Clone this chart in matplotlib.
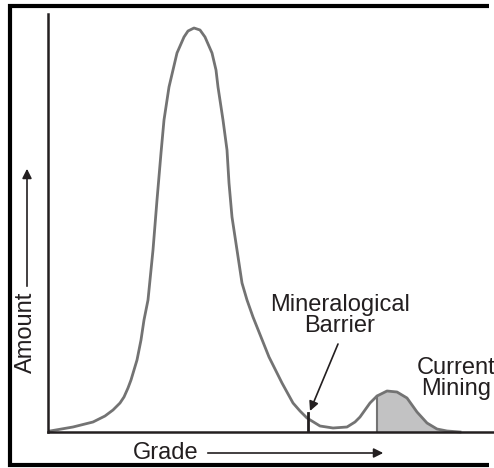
import matplotlib
matplotlib.use("Agg")
import matplotlib.pyplot as plt
from matplotlib.patches import FancyArrowPatch
from matplotlib.lines import Line2D

plt.rcParams['font.family'] = ['Liberation Sans', 'DejaVu Sans']

# grade / amount (arbitrary units)
grade = [2, 25, 45, 57, 65, 72, 76, 80, 83, 86, 89, 93, 96, 100, 102, 105, 109,
         113, 116, 121, 125, 129, 136, 140, 146, 152, 157, 164, 168, 170, 175,
         179, 181, 184, 189, 194, 199, 205, 213, 221, 234, 245, 252, 259, 272, 285,
         299, 307, 312, 322, 329, 339, 349, 359, 369, 379, 389, 399, 412]
amount = [1, 5, 10, 16, 22, 29, 35, 44, 52, 62, 72, 92, 112, 132, 152, 182, 232,
          279, 312, 345, 362, 379, 395, 401, 404, 402, 395, 379, 362, 345, 312,
          282, 249, 215, 182, 149, 132, 115, 95, 75, 49, 29, 21, 14, 6, 4,
          5, 10, 15, 29, 36, 41, 40, 34, 20, 9, 3, 1, 0]

barrier_grade = 260
barrier_height = 19
mining_start = 329

curve_col = '#737373'
ink = '#231f20'

fig = plt.figure(figsize=(4.94, 4.68), dpi=100)
ax = fig.add_axes([48 / 494, 36 / 468, 446 / 494, 418 / 468])
ax.set_xlim(0, 446)
ax.set_ylim(0, 418)
for s in ['top', 'right']:
    ax.spines[s].set_visible(False)
for s in ['left', 'bottom']:
    ax.spines[s].set_color(ink)
    ax.spines[s].set_linewidth(1.8)
ax.set_xticks([])
ax.set_yticks([])

# shaded current mining part
mg = [g for g in grade if g >= mining_start]
ma = [a for g, a in zip(grade, amount) if g >= mining_start]
ax.fill_between(mg, 0, ma, color='#c2c2c3', lw=0)
ax.plot([mining_start, mining_start], [0, ma[0]], color=curve_col, lw=1.5)

ax.plot(grade, amount, color=curve_col, lw=2, solid_joinstyle='round', clip_on=False)

# mineralogical barrier tick
ax.plot([barrier_grade, barrier_grade], [0, barrier_height], color=ink, lw=2)

ax.text(292, 95, 'Mineralogical\nBarrier', ha='center', va='bottom',
        fontsize=17, color=ink, linespacing=0.95)
ax.annotate('', xy=(262, 21), xytext=(290, 88),
            arrowprops=dict(arrowstyle='-|>', color=ink, lw=1.2,
                            mutation_scale=14, shrinkA=0, shrinkB=0))
ax.text(408, 32, 'Current\nMining', ha='center', va='bottom', fontsize=17,
        color=ink, linespacing=0.95, clip_on=False)

# axis labels with arrows (figure coords)
fig.text(133 / 494, 1 - 453 / 468, 'Grade', ha='left', va='center',
         fontsize=17, color=ink)
fig.add_artist(FancyArrowPatch(
    (205 / 494, 1 - 453 / 468), (386 / 494, 1 - 453 / 468),
    transform=fig.transFigure, arrowstyle='-|>', mutation_scale=14,
    color=ink, lw=1.2))
fig.text(26 / 494, 1 - 332 / 468, 'Amount', ha='center', va='center',
         rotation=90, fontsize=17, color=ink)
fig.add_artist(FancyArrowPatch(
    (27 / 494, 1 - 289 / 468), (27 / 494, 1 - 166 / 468),
    transform=fig.transFigure, arrowstyle='-|>', mutation_scale=14,
    color=ink, lw=1.2))

# outer frame (left, top, bottom only - right edge is cropped)
L, T, B = 10 / 494, 1 - 6 / 468, 1 - 465 / 468
fig.add_artist(Line2D([0.99, L, L, 0.99], [T, T, B, B], transform=fig.transFigure,
                      color='black', lw=3, solid_joinstyle='miter',
                      solid_capstyle='butt'))

fig.savefig('out.png', dpi=100)
